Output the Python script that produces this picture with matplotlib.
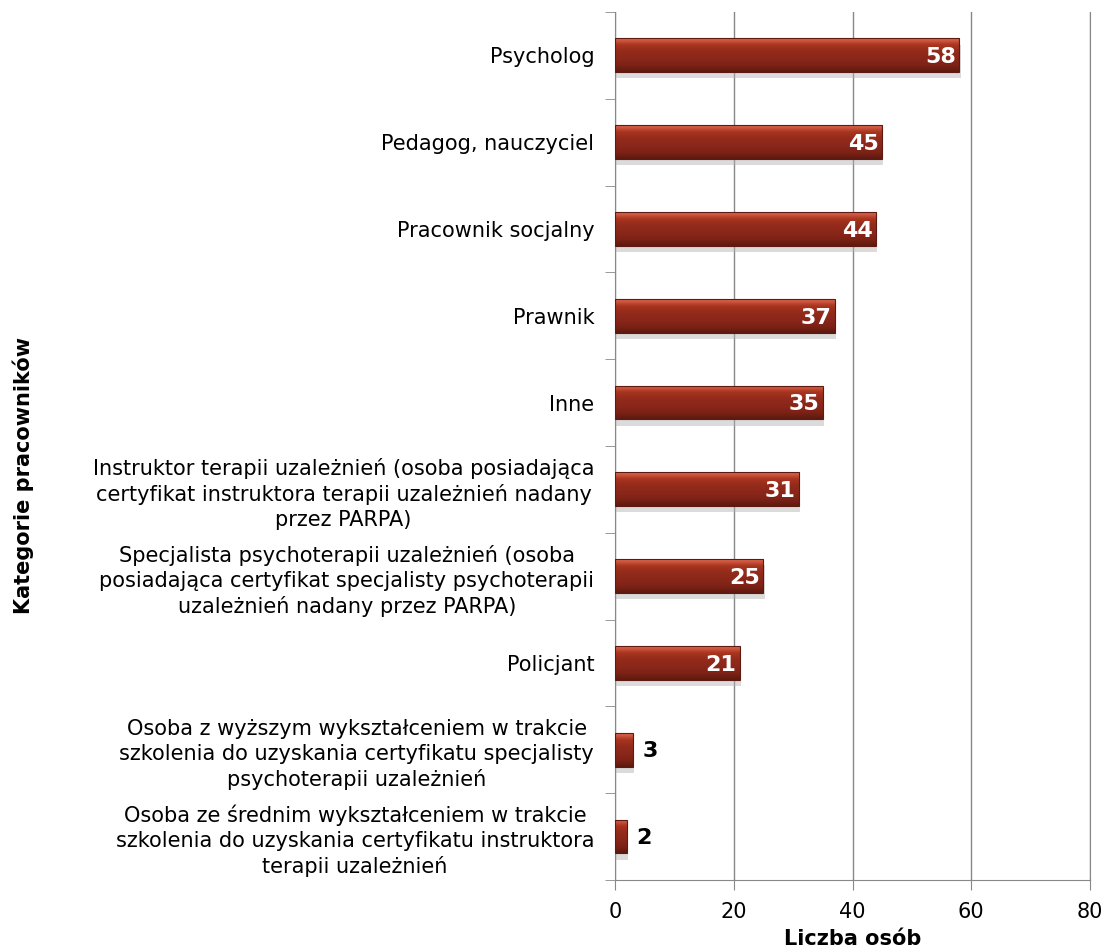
import matplotlib
matplotlib.use("Agg")
import matplotlib.pyplot as plt
import numpy as np
from matplotlib.colors import LinearSegmentedColormap

categories = [
    "Psycholog",
    "Pedagog, nauczyciel",
    "Pracownik socjalny",
    "Prawnik",
    "Inne",
    "Instruktor terapii uzależnień (osoba posiadająca\ncertyfikat instruktora terapii uzależnień nadany\nprzez PARPA)",
    "Specjalista psychoterapii uzależnień (osoba\nposiadająca certyfikat specjalisty psychoterapii\nuzależnień nadany przez PARPA)",
    "Policjant",
    "Osoba z wyższym wykształceniem w trakcie\nszkolenia do uzyskania certyfikatu specjalisty\npsychoterapii uzależnień",
    "Osoba ze średnim wykształceniem w trakcie\nszkolenia do uzyskania certyfikatu instruktora\nterapii uzależnień",
]
values = [58, 45, 44, 37, 35, 31, 25, 21, 3, 2]
xticks = [0, 20, 40, 60, 80]

plt.rcParams['font.family'] = ['DejaVu Sans']
fig = plt.figure(figsize=(11.07, 9.51), dpi=100)
ax = fig.add_axes([0.5556, 0.0747, 0.9846 - 0.5556, 0.9874 - 0.0747])

n = len(categories)
ypos = np.arange(n)
bar_h = 0.39
bars = ax.barh(ypos, values, height=bar_h, color='#8f2a1a', edgecolor='none', zorder=3)

cmap = LinearSegmentedColormap.from_list(
    'bev', ['#e0684f', '#a8341f', '#922b1b', '#8a271a', '#7e2216', '#5e1a10'])
grad = np.linspace(0, 1, 64).reshape(-1, 1)
for b in bars:
    x0, y0 = b.get_x(), b.get_y()
    w, h = b.get_width(), b.get_height()
    ax.add_patch(plt.Rectangle((x0 + 0.2, y0 + 0.07), w, h, color='#b0b0b0',
                               alpha=0.45, zorder=2, lw=0))
    im = ax.imshow(grad, cmap=cmap, aspect='auto', extent=[x0, x0 + w, y0 + h, y0],
                   zorder=4, interpolation='bilinear')
    im.set_clip_path(b)
    ax.add_patch(plt.Rectangle((x0, y0), w, h, fill=False, edgecolor='#5e1a10',
                               lw=0.8, zorder=5))

for y, v in zip(ypos, values):
    if v > 10:
        ax.text(v - 0.6, y + 0.02, str(v), ha='right', va='center', color='white',
                fontsize=16, fontweight='bold', zorder=6)
    else:
        ax.text(v + 1.6, y + 0.02, str(v), ha='left', va='center', color='black',
                fontsize=16, fontweight='bold', zorder=6)

ax.set_xlim(0, 80)
ax.set_ylim(n - 0.5, -0.5)
ax.set_xticks(xticks)
ax.set_xticklabels([str(t) for t in xticks], fontsize=15)
ax.set_yticks(ypos)
ax.set_yticklabels(categories, fontsize=15, ha='right', multialignment='center',
                   linespacing=1.3)
ax.tick_params(axis='y', length=0, pad=15)
ax.set_yticks(np.arange(-0.5, n, 1), minor=True)
ax.tick_params(axis='y', which='minor', length=7, color='#888888')
ax.tick_params(axis='x', length=7, color='#888888', pad=9)
ax.xaxis.grid(True, color='#888888', lw=1.0, zorder=0)
ax.set_axisbelow(True)
ax.spines['top'].set_visible(False)
for s in ['left', 'bottom', 'right']:
    ax.spines[s].set_color('#888888')
ax.set_xlabel('Liczba osób', fontsize=15, fontweight='bold', labelpad=5)
fig.text(0.021, 0.5, 'Kategorie pracowników', rotation=90, ha='center', va='center',
         fontsize=15, fontweight='bold')

fig.savefig('out.png', dpi=100)
